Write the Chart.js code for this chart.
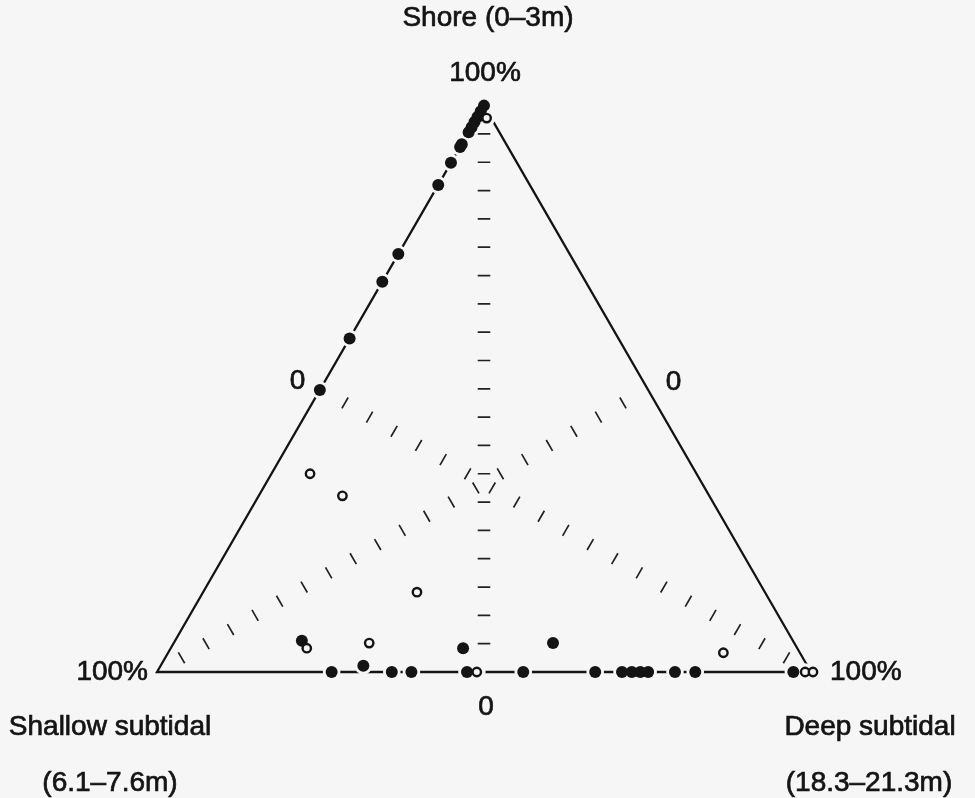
<!DOCTYPE html>
<html>
<head>
<meta charset="utf-8">
<script src="https://cdn.jsdelivr.net/npm/chart.js@4.4.1/dist/chart.umd.min.js"></script>
<style>
  html, body { margin: 0; padding: 0; background: #f6f6f6; }
  #wrap { width: 975px; height: 798px; }
</style>
</head>
<body>
<div id="wrap"><canvas id="c" width="975" height="798"></canvas></div>
<script>
// ---- Data (percent of each zone: Shore, Shallow subtidal, Deep subtidal) ----
const filledShore   = [100, 99.0, 98.0, 97.1, 96.2, 95.3, 93.2, 92.7, 89.9, 86.0, 73.8, 68.9, 58.9, 49.8,
                       0, 0, 0, 0, 0, 0, 0, 0, 0, 0, 0, 0, 0, 1.1, 5.5, 4.2, 5.1];
const filledShallow = [0, 1.0, 2.0, 2.9, 3.8, 4.7, 6.8, 7.3, 10.1, 14.0, 26.2, 31.1, 41.1, 50.2,
                       73.3, 64.1, 61.1, 52.6, 44.0, 33.0, 28.9, 27.4, 26.1, 24.9, 20.8, 17.7, 2.7, 67.9, 75.1, 51.1, 36.9];
const filledDeep    = [0, 0, 0, 0, 0, 0, 0, 0, 0, 0, 0, 0, 0, 0,
                       26.7, 35.9, 38.9, 47.4, 56.0, 67.0, 71.1, 72.6, 73.9, 75.1, 79.2, 82.3, 97.3, 31.0, 19.4, 44.7, 58.0];

const openShore   = [97.8, 35.0, 31.1, 14.1, 5.1, 4.2, 3.4, 0, 0, 0];
const openShallow = [0.7, 59.1, 56.1, 53.2, 65.0, 75.0, 11.7, 51.1, 0.9, -0.3];
const openDeep    = [1.5, 5.9, 12.8, 32.7, 29.9, 20.8, 84.9, 48.9, 99.1, 100.3];

// tick marks along the three medians (percent of the zone at the vertex)
const tickPercents = [5, 10, 15, 20, 25, 30, 35, 40, 45, 50, 55, 60, 65, 70, 75, 80, 85, 90, 95];

const vertexNames = ['Shore (0\u20133m)', 'Shallow subtidal', 'Deep subtidal'];
const vertexDepths = ['', '(6.1\u20137.6m)', '(18.3\u201321.3m)'];

// ---- ternary -> cartesian (side = 1, Shallow at origin, Deep at (1,0)) ----
const R3 = Math.sqrt(3) / 2;
function tern(shore, shallow, deep) {
  const t = shore + shallow + deep;
  const s = shore / t, d = deep / t;
  return { x: d + s / 2, y: s * R3 };
}
const V = { top: tern(100, 0, 0), left: tern(0, 100, 0), right: tern(0, 0, 100) };
const M = { // midpoints of opposite sides (0% of that vertex)
  top: tern(0, 50, 50), left: tern(50, 0, 50), right: tern(50, 50, 0)
};

function ticksFor(key) {
  const v = V[key], m = M[key];
  const dx = v.x - m.x, dy = v.y - m.y, len = Math.hypot(dx, dy);
  const px = -dy / len, py = dx / len; // perpendicular unit
  const h = 6.3 / 654; // half tick length
  const out = [];
  tickPercents.forEach(p => {
    const cx = m.x + dx * p / 100, cy = m.y + dy * p / 100;
    out.push({ x: cx - px * h, y: cy - py * h });
    out.push({ x: cx + px * h, y: cy + py * h });
    out.push({ x: null, y: null });
  });
  return out;
}

const filledPts = filledShore.map((s, i) => tern(s, filledShallow[i], filledDeep[i]));
const openPts = openShore.map((s, i) => tern(s, openShallow[i], openDeep[i]));
const BG = '#f6f6f6';
const INK = '#141414';

const bgPlugin = {
  id: 'bg',
  beforeDraw(chart) {
    const c = chart.ctx;
    c.save(); c.fillStyle = BG; c.fillRect(0, 0, chart.width, chart.height); c.restore();
  }
};

function txt(c, s, x, y) {
  c.fillText(s, x, y);
  c.strokeText(s, x, y);
}

const labelPlugin = {
  id: 'labels',
  afterDraw(chart) {
    const c = chart.ctx, xs = chart.scales.x, ys = chart.scales.y;
    const P = p => ({ x: xs.getPixelForValue(p.x), y: ys.getPixelForValue(p.y) });
    const top = P(V.top), left = P(V.left), right = P(V.right);
    const mL = P(M.right), mR = P(M.left), mB = P(M.top);
    c.save();
    c.fillStyle = INK;
    c.strokeStyle = INK;
    c.lineWidth = 0.7;
    c.font = '28px "Liberation Sans", Arial, sans-serif';
    c.textBaseline = 'middle';
    c.textAlign = 'center';
    txt(c, vertexNames[0], top.x + 4, top.y - 87);
    txt(c, '100%', top.x + 1, top.y - 32);
    txt(c, '0', mL.x - 23, mL.y - 8);
    txt(c, '0', mR.x + 26, mR.y - 7);
    txt(c, '0', mB.x + 2, mB.y + 35);
    c.textAlign = 'right';
    txt(c, '100%', left.x - 9, left.y);
    c.textAlign = 'left';
    txt(c, '100%', right.x + 19, right.y);
    c.textAlign = 'center';
    txt(c, vertexNames[1], left.x - 47, left.y + 55);
    txt(c, vertexDepths[1], left.x - 47, left.y + 111);
    txt(c, vertexNames[2], right.x + 59, right.y + 55);
    txt(c, vertexDepths[2], right.x + 58, right.y + 111);
    c.restore();
  }
};

new Chart(document.getElementById('c'), {
  type: 'scatter',
  data: {
    datasets: [
      { label: 'triangle', data: [V.top, V.left, V.right, V.top], showLine: true,
        borderColor: INK, borderWidth: 2.3, pointRadius: 0, order: 6 },
      { label: 'ticksTop', data: ticksFor('top'), showLine: true, spanGaps: false,
        borderColor: '#222', borderWidth: 1.7, pointRadius: 0, order: 5 },
      { label: 'ticksLeft', data: ticksFor('left'), showLine: true, spanGaps: false,
        borderColor: '#222', borderWidth: 1.7, pointRadius: 0, order: 5 },
      { label: 'ticksRight', data: ticksFor('right'), showLine: true, spanGaps: false,
        borderColor: '#222', borderWidth: 1.7, pointRadius: 0, order: 5 },
      { label: 'halo', data: filledPts.concat(openPts), pointRadius: 8.8, borderWidth: 0,
        backgroundColor: BG, order: 4 },
      { label: 'filled', data: filledPts, pointRadius: 6, borderWidth: 0,
        backgroundColor: INK, order: 2 },
      { label: 'open', data: openPts, pointRadius: 4.2, borderWidth: 2.4,
        borderColor: INK, backgroundColor: BG, order: 1 }
    ]
  },
  options: {
    responsive: false,
    animation: false,
    devicePixelRatio: 1,
    layout: { padding: 0, autoPadding: false },
    plugins: { legend: { display: false }, tooltip: { enabled: false } },
    scales: {
      x: { type: 'linear', min: -157 / 654, max: (975 - 157) / 654, display: false },
      y: { type: 'linear', min: -(798 - 672) / 654, max: 672 / 654, display: false }
    }
  },
  plugins: [bgPlugin, labelPlugin]
});
</script>
</body>
</html>
